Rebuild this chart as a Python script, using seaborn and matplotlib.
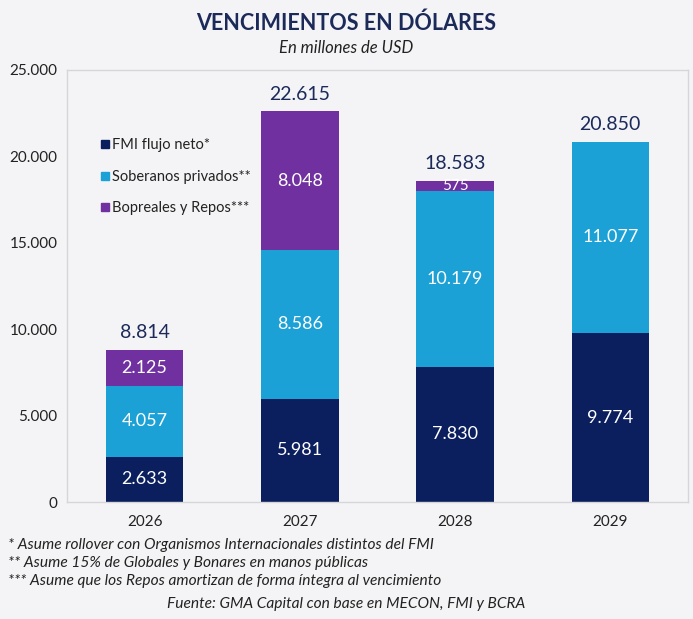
import matplotlib
matplotlib.use("Agg")
import matplotlib.pyplot as plt
from matplotlib.lines import Line2D
import pandas as pd
import seaborn as sns

# --- Data ---
years = ["2026", "2027", "2028", "2029"]
fmi = [2633, 5981, 7830, 9774]
soberanos = [4057, 8586, 10179, 11077]
bopreales = [2125, 8048, 575, 0]
totals_label = ["8.814", "22.615", "18.583", "20.850"]

series_names = ["FMI flujo neto*", "Soberanos privados**", "Bopreales y Repos***"]
colors = ["#0b1f5e", "#1ba1d6", "#7030a0"]

BG = "#f4f4f6"
NAVY = "#1c2a5a"
TEXT = "#222222"


def fmt(v):
    return f"{v:,.0f}".replace(",", ".")


df = pd.DataFrame({"year": years, "fmi": fmi, "sob": soberanos, "bop": bopreales})
df["c1"] = df["fmi"]
df["c2"] = df["fmi"] + df["sob"]
df["c3"] = df["c2"] + df["bop"]

sns.set_style("white")
plt.rcParams["font.family"] = ["Lato", "DejaVu Sans"]

fig = plt.figure(figsize=(6.93, 6.19), dpi=100, facecolor=BG)
ax = fig.add_axes([0.0967, 0.189, 0.896, 0.698])
ax.set_facecolor(BG)

# stacked bars: draw cumulative totals from the top layer down
for col, color in zip(["c3", "c2", "c1"], colors[::-1]):
    sns.barplot(data=df, x="year", y=col, color=color, width=0.5,
                saturation=1, ax=ax, linewidth=0)

# segment labels
for i in range(len(years)):
    bottom = 0
    for vals in (fmi, soberanos, bopreales):
        v = vals[i]
        if v > 0:
            size = 11 if v < 1500 else 13
            ax.text(i, bottom + v / 2, fmt(v), ha="center", va="center",
                    color="white", fontsize=size)
        bottom += v
    ax.annotate(totals_label[i], (i, df["c3"][i]), xytext=(0, 6),
                textcoords="offset points", ha="center", va="bottom",
                color=NAVY, fontsize=14)

ax.set_ylim(0, 25000)
ax.set_xlim(-0.5, 3.5)
ax.set_yticks(range(0, 25001, 5000))
ax.set_yticklabels([fmt(v) for v in range(0, 25001, 5000)])
ax.tick_params(axis="both", length=0, labelsize=11, colors=TEXT)
ax.tick_params(axis="y", pad=7)
ax.tick_params(axis="x", pad=9)
ax.set_xlabel("")
ax.set_ylabel("")
for s in ax.spines.values():
    s.set_color("#d6d6d9")
    s.set_linewidth(1)

handles = [Line2D([0], [0], marker="s", linestyle="", markersize=5.5,
                  markerfacecolor=c, markeredgecolor=c) for c in colors]
ax.legend(handles, series_names, loc="upper left", bbox_to_anchor=(0.043, 0.855),
          frameon=False, fontsize=10.5, labelspacing=1.2, handletextpad=0.05,
          handlelength=0.8, labelcolor=TEXT, borderaxespad=0)

fig.text(0.5, 0.962, "VENCIMIENTOS EN DÓLARES", ha="center", va="center",
         fontsize=15.5, fontweight="bold", color=NAVY)
fig.text(0.5, 0.922, "En millones de USD", ha="center", va="center",
         fontsize=12, style="italic", color=TEXT)

notes = [
    "* Asume rollover con Organismos Internacionales distintos del FMI",
    "** Asume 15% de Globales y Bonares en manos públicas",
    "*** Asume que los Repos amortizan de forma íntegra al vencimiento",
]
for k, n in enumerate(notes):
    fig.text(0.012, 1 - (545 + 18 * k) / 619, n, ha="left", va="center",
             fontsize=11.2, style="italic", color=TEXT)
fig.text(0.5, 1 - 604 / 619, "Fuente: GMA Capital con base en MECON, FMI y BCRA",
         ha="center", va="center", fontsize=11.2, style="italic", color=TEXT)

fig.savefig("out.png", dpi=100, facecolor=BG)
